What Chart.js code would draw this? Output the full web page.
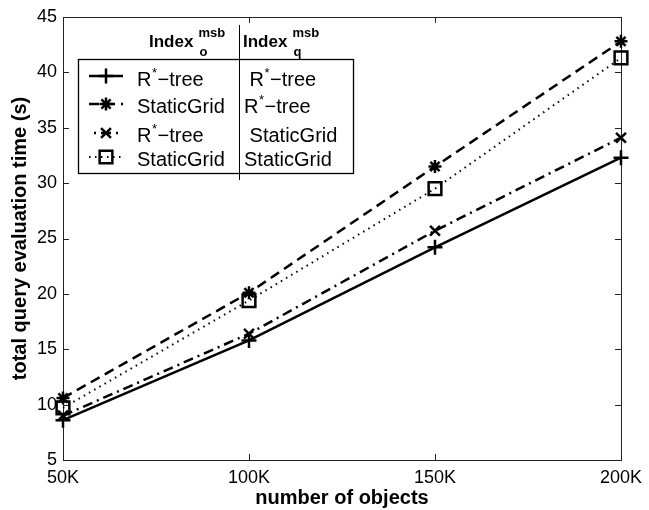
<!DOCTYPE html>
<html>
<head>
<meta charset="utf-8">
<script src="https://cdn.jsdelivr.net/npm/chart.js@4.4.1/dist/chart.umd.min.js"></script>
<style>
  html, body { margin: 0; padding: 0; background: #fff; }
</style>
</head>
<body>
<canvas id="chart" width="649" height="510"></canvas>
<script>
// values
const categories = ['50K', '100K', '150K', '200K'];
const rtreeRtree = [8.6, 15.8, 24.2, 32.3];
const gridRtree = [10.6, 20.1, 31.5, 42.8];
const rtreeGrid = [9.0, 16.4, 25.7, 34.1];
const gridGrid = [9.7, 19.4, 29.5, 41.3];
const indexO = ['R*-tree', 'StaticGrid', 'R*-tree', 'StaticGrid'];
const indexQ = [' R*-tree', 'R*-tree', ' StaticGrid', 'StaticGrid'];
const yTicks = [5, 10, 15, 20, 25, 30, 35, 40, 45];

const FONT = '"Liberation Sans", Arial, Helvetica, sans-serif';
const INK = '#000';

const styles = [
  { dash: [], width: 2.5, point: 'cross', radius: 7.5, legendOffset: 0 },
  { dash: [10, 6], width: 2.5, point: 'star', radius: 6.5, legendOffset: 0 },
  { dash: [10, 5, 2, 5], width: 2.5, point: 'crossRot', radius: 7, legendOffset: 10 },
  { dash: [1.5, 4.5], width: 2, point: 'rect', radius: 9, legendOffset: 0 },
];

const seriesValues = [rtreeRtree, gridRtree, rtreeGrid, gridGrid];

const datasets = seriesValues.map((vals, i) => ({
  label: indexO[i] + ' / ' + indexQ[i].trim(),
  data: vals,
  borderColor: INK,
  backgroundColor: 'transparent',
  borderWidth: styles[i].width,
  borderDash: styles[i].dash,
  pointStyle: styles[i].point,
  pointRadius: styles[i].radius,
  pointBorderWidth: 2.5,
  pointBorderColor: INK,
  pointBackgroundColor: 'transparent',
  tension: 0,
  clip: false,
}));

// box round the axes and the inward tick marks, like matlab draws them
const matlabFrame = {
  id: 'matlabFrame',
  beforeDatasetsDraw(chart) {
    const { ctx, chartArea: a, scales: { x, y } } = chart;
    const t = 6;
    ctx.save();
    ctx.strokeStyle = '#222';
    ctx.lineWidth = 1;
    ctx.setLineDash([]);
    ctx.strokeRect(a.left + 0.5, a.top + 0.5, a.right - a.left, a.bottom - a.top);
    ctx.beginPath();
    y.ticks.forEach(tk => {
      const py = Math.round(y.getPixelForValue(tk.value)) + 0.5;
      ctx.moveTo(a.left, py); ctx.lineTo(a.left + t, py);
      ctx.moveTo(a.right, py); ctx.lineTo(a.right - t, py);
    });
    x.ticks.forEach((tk, i) => {
      const px = Math.round(x.getPixelForTick(i)) + 0.5;
      ctx.moveTo(px, a.bottom); ctx.lineTo(px, a.bottom - t);
      ctx.moveTo(px, a.top); ctx.lineTo(px, a.top + t);
    });
    ctx.stroke();
    ctx.restore();
  }
};

// text with R^* style superscript and a real minus sign
function drawLabel(ctx, text, x, y) {
  let cx = x;
  const parts = text.replace('-', '\u2212').split('*');
  parts.forEach((p, i) => {
    ctx.font = '20px ' + FONT;
    ctx.fillText(p, cx, y);
    cx += ctx.measureText(p).width;
    if (i < parts.length - 1) {
      ctx.font = '13px ' + FONT;
      ctx.fillText('*', cx + 0.5, y - 9);
      cx += ctx.measureText('*').width + 1;
    }
  });
}

function drawHeader(ctx, sub, x, y) {
  ctx.font = 'bold 17px ' + FONT;
  ctx.fillText('Index', x, y);
  const w = ctx.measureText('Index').width;
  ctx.font = 'bold 13px ' + FONT;
  ctx.fillText('msb', x + w + 5, y - 10);
  ctx.fillText(sub, x + w + 6, y + 9);
}

const tableLegend = {
  id: 'tableLegend',
  afterDraw(chart) {
    const ctx = chart.ctx;
    const box = { left: 78, top: 59, right: 353, bottom: 173 };
    const divX = 239.5;
    const lineX0 = 89, lineX1 = 123, markX = 106;
    const col1 = 137, col2 = 244;
    const baselines = [86, 113, 141.5, 166];
    const markYs = [76, 104, 133, 157];

    ctx.save();
    ctx.fillStyle = '#fff';
    ctx.fillRect(box.left, box.top, box.right - box.left, box.bottom - box.top);
    ctx.strokeStyle = INK;
    ctx.lineWidth = 1.3;
    ctx.setLineDash([]);
    ctx.strokeRect(box.left + 0.5, box.top + 0.5, box.right - box.left, box.bottom - box.top);
    ctx.lineWidth = 1;
    ctx.beginPath();
    ctx.moveTo(divX, 25); ctx.lineTo(divX, 180);
    ctx.stroke();

    ctx.fillStyle = INK;
    ctx.textBaseline = 'alphabetic';
    ctx.textAlign = 'left';
    drawHeader(ctx, 'o', 149, 47);
    drawHeader(ctx, 'q', 243, 47);

    chart.data.datasets.forEach((ds, i) => {
      const my = markYs[i];
      ctx.strokeStyle = INK;
      ctx.lineWidth = ds.borderWidth;
      ctx.setLineDash(ds.borderDash);
      ctx.lineDashOffset = styles[i].legendOffset;
      ctx.beginPath();
      ctx.moveTo(lineX0, my); ctx.lineTo(lineX1, my);
      ctx.stroke();
      ctx.setLineDash([]);
      ctx.lineDashOffset = 0;
      ctx.lineWidth = ds.pointBorderWidth;
      ctx.fillStyle = 'transparent';
      Chart.helpers.drawPoint(ctx, {
        pointStyle: ds.pointStyle, radius: ds.pointRadius, rotation: 0, borderWidth: ds.pointBorderWidth
      }, markX, my);
      ctx.fillStyle = INK;
      drawLabel(ctx, indexO[i], col1, baselines[i]);
      drawLabel(ctx, indexQ[i], col2, baselines[i]);
    });
    ctx.restore();
  }
};

new Chart(document.getElementById('chart'), {
  type: 'line',
  data: { labels: categories, datasets },
  options: {
    responsive: false,
    animation: false,
    events: [],
    layout: { padding: { top: 17, right: 23, left: 0, bottom: 0 } },
    plugins: { legend: { display: false }, tooltip: { enabled: false } },
    scales: {
      x: {
        type: 'category',
        offset: false,
        grid: { display: true, drawOnChartArea: false, drawTicks: false, offset: false },
        border: { display: false },
        ticks: { color: INK, font: { family: FONT, size: 18 }, padding: 7, maxRotation: 0, autoSkip: false },
        title: { display: true, text: 'number of objects', color: INK, font: { family: FONT, size: 20, weight: 'bold' }, padding: { top: 0, bottom: 0 } },
        afterFit(scale) { scale.height = 50; }
      },
      y: {
        min: 5,
        max: 45,
        afterBuildTicks(scale) { scale.ticks = yTicks.map(v => ({ value: v })); },
        grid: { display: true, drawOnChartArea: false, drawTicks: false },
        border: { display: false },
        ticks: { color: INK, font: { family: FONT, size: 18 }, padding: 6 },
        title: { display: true, text: 'total query evaluation time (s)', color: INK, font: { family: FONT, size: 20, weight: 'bold' }, padding: { top: 8, bottom: 0 } },
        afterFit(scale) { scale.width = 63; }
      }
    }
  },
  plugins: [matlabFrame, tableLegend]
});
</script>
</body>
</html>
